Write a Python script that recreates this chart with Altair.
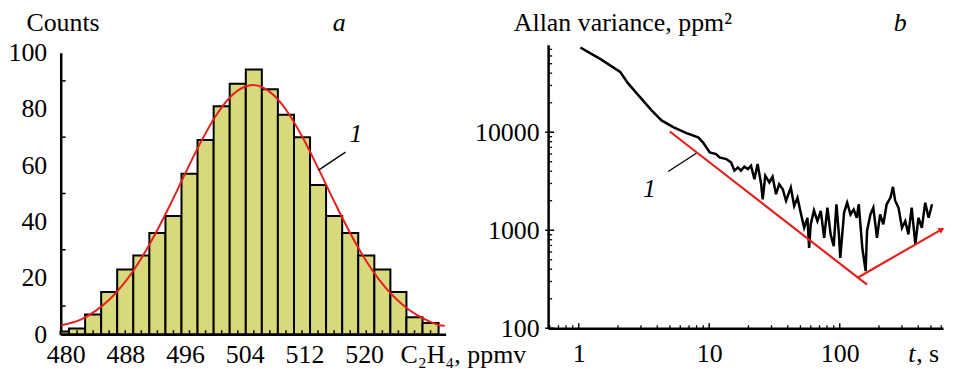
import altair as alt
import pandas as pd

FONT = "Liberation Serif"

# ---------------- panel a: histogram of C2H4 readings ----------------
bin_start = [479.3, 480.44, 482.6, 484.75, 486.9, 489.06, 491.21, 493.37, 495.52, 497.67,
             499.83, 501.98, 504.14, 506.29, 508.44, 510.6, 512.75, 514.9, 517.06, 519.21,
             521.37, 523.52, 525.67, 527.83]
bin_end = bin_start[1:] + [529.98]
counts = [1, 2, 7, 15, 23, 28, 36, 42, 57, 69, 81, 89, 94, 87, 78, 70, 53, 42, 36, 28,
          23, 15, 6, 4]

fit_x = [479.4, 482, 484, 486, 488, 490, 492, 494, 496, 498, 500, 502, 504, 505.1, 506,
         508, 510, 512, 514, 516, 518, 520, 522, 524, 526, 528, 530, 530.8]
fit_y = [3.2, 5.2, 8.3, 12.7, 18.7, 26.4, 35.6, 46.0, 57.0, 67.7, 77.1, 84.1, 87.9, 88.5,
         88.1, 84.6, 77.9, 68.7, 58.1, 47.1, 36.6, 27.2, 19.4, 13.3, 8.7, 5.5, 3.3, 3.0]

a_xticks = [480, 488, 496, 504, 512, 520]
a_yticks = [0, 20, 40, 60, 80, 100]
a_yminor = [10, 30, 50, 70, 90]

a_label_xy = [518.9, 71.0]
a_leader_x = [517.5, 513.9]
a_leader_y = [64.7, 58.3]

# ---------------- panel b: Allan variance ----------------
tau = [1.03, 1.30, 1.46, 2.08, 2.40, 2.95, 3.62, 4.31, 5.30, 6.70, 8.22, 8.95, 10.1, 11.3,
       12.0, 13.5, 14.7, 15.6, 16.6, 17.5, 18.6, 19.8, 20.9, 22.2, 23.5, 25.0, 25.7, 26.9,
       28.9, 30.6, 32.5, 34.4, 36.6, 38.8, 42.2, 44.8, 47.5, 50.6, 53.4, 56.6, 58.3, 60.0,
       63.5, 67.5, 71.6, 76.0, 80.5, 85.2, 90.0, 94.4, 98.6, 101, 108, 114, 121, 128, 135,
       140, 149, 158, 162, 172, 181, 193, 204, 216, 229, 245, 256, 266, 282, 300, 318, 336,
       356, 380, 401, 426, 452, 480, 510]
allan = [73200, 61200, 56000, 41200, 31300, 22800, 16700, 13200, 11250, 9770, 8890, 7890,
         6230, 5990, 5540, 5320, 4920, 4050, 4370, 4050, 4450, 4200, 4550, 3320, 4730, 2950,
         2070, 3600, 3070, 3510, 2330, 2950, 2620, 2000, 2730, 1770, 2150, 1450, 1060, 1340,
         661, 1150, 1590, 1240, 1575, 838, 1700, 906, 689, 1840, 906, 522, 1510, 1910, 1450,
         1630, 1340, 1840, 661, 382, 982, 1450, 1700, 838, 1450, 1150, 1840, 2150, 2770,
         2000, 1700, 1060, 1240, 907, 1700, 719, 1340, 1060, 1910, 1340, 1840]
assert len(tau) == len(allan)

fit1_t = [4.99, 162]
fit1_v = [10170, 278]
fit2_t = [136, 605]
fit2_v = [326, 1020]

b_xticks = [1, 10, 100]
b_yticks = [100, 1000, 10000]
b_xminor = [0.6, 0.7, 0.8, 0.9, 2, 3, 4, 5, 6, 7, 8, 9, 20, 30, 40, 50, 60, 70, 80, 90,
            200, 300, 400, 500, 600]
b_yminor = [200, 300, 400, 500, 600, 700, 800, 900, 2000, 3000, 4000, 5000, 6000, 7000,
            8000, 9000, 20000, 30000, 40000, 50000, 60000, 70000]

b_label_xy = [3.48, 2620]
b_leader_x = [4.85, 7.97]
b_leader_y = [3980, 6100]

RED = "#e3211e"
BAR = "#d8d87c"

# ======== panel a ========
WA, HA = 387, 291
xa = alt.Scale(domain=[479.33, 530.93], nice=False, zero=False)
ya = alt.Scale(domain=[0, 100], range=[291, 8], nice=False, zero=False)
ax_xa = alt.Axis(values=a_xticks, format="d", labelPadding=7, labelFlush=False,
                 title="C\u2082H\u2084, ppmv", titleX=341, titleY=28,
                 titleAlign="left", titleBaseline="alphabetic")
ax_ya = alt.Axis(values=a_yticks, format="d", labelPadding=14,
                 title="Counts", titleAngle=0, titleX=-35, titleY=-14,
                 titleAlign="left", titleBaseline="alphabetic")


def XA(f="x"):
    return alt.X(f"{f}:Q", scale=xa, axis=ax_xa)


def YA(f="y"):
    return alt.Y(f"{f}:Q", scale=ya, axis=ax_ya)


hist = pd.DataFrame({"x": bin_start, "x2": bin_end, "y": counts})
bars = alt.Chart(hist).mark_rect(fill=BAR, stroke="black", strokeWidth=2).encode(
    x=XA(), x2="x2:Q", y=YA(), y2=alt.datum(0))

fit = alt.Chart(pd.DataFrame({"x": fit_x, "y": fit_y})).mark_line(
    color=RED, strokeWidth=2, interpolate="monotone").encode(x=XA(), y=YA())

centers = [(s + e) / 2 for s, e in zip(bin_start[1:], bin_end[1:])]
a_xt = alt.Chart(pd.DataFrame({"x": centers})).mark_rule(color="black", strokeWidth=1.5).encode(
    x=XA(), y=alt.value(HA), y2=alt.value(HA - 4))
a_yt = alt.Chart(pd.DataFrame({"y": a_yminor})).mark_rule(color="black", strokeWidth=1.5).encode(
    y=YA(), x=alt.value(0), x2=alt.value(5))

a_lead = alt.Chart(pd.DataFrame({"x": a_leader_x, "y": a_leader_y})).mark_line(
    color="black", strokeWidth=1.3).encode(x=XA(), y=YA())
a_lab = alt.Chart(pd.DataFrame({"x": [a_label_xy[0]], "y": [a_label_xy[1]], "t": ["1"]})).mark_text(
    fontStyle="italic", baseline="middle", align="center").encode(x=XA(), y=YA(), text="t:N")
a_tag = alt.Chart(pd.DataFrame({"t": ["a"]})).mark_text(
    fontStyle="italic", baseline="alphabetic", align="center").encode(
    x=alt.value(280), y=alt.value(-14), text="t:N")

panel_a = alt.layer(bars, fit, a_xt, a_yt, a_lead, a_lab, a_tag).properties(width=WA, height=HA)

# ======== panel b ========
WB, HB = 397, 285
xb = alt.Scale(type="log", domain=[0.583, 619], nice=False)
yb = alt.Scale(type="log", domain=[100, 78000], nice=False)
ax_xb = alt.Axis(values=b_xticks, format="d", labelPadding=12, labelFlush=False, title=None)
ax_yb = alt.Axis(values=b_yticks, format="d", labelPadding=9,
                 title="Allan variance, ppm\u00b2", titleAngle=0, titleX=-35,
                 titleY=-14, titleAlign="left", titleBaseline="alphabetic")


def XB(f="x"):
    return alt.X(f"{f}:Q", scale=xb, axis=ax_xb)


def YB(f="y"):
    return alt.Y(f"{f}:Q", scale=yb, axis=ax_yb)


av = alt.Chart(pd.DataFrame({"x": tau, "y": allan})).mark_line(
    color="black", strokeWidth=2.5).encode(x=XB(), y=YB())
f1 = alt.Chart(pd.DataFrame({"x": fit1_t, "y": fit1_v})).mark_line(
    color=RED, strokeWidth=2.2).encode(x=XB(), y=YB())
f2 = alt.Chart(pd.DataFrame({"x": fit2_t, "y": fit2_v})).mark_line(
    color=RED, strokeWidth=2.2).encode(x=XB(), y=YB())
arrow = alt.Chart(pd.DataFrame({"x": [fit2_t[-1]], "y": [fit2_v[-1]]})).mark_point(
    shape="triangle-right", filled=True, color=RED, size=45, angle=330, opacity=1).encode(
    x=XB(), y=YB())

b_xt_min = alt.Chart(pd.DataFrame({"x": b_xminor})).mark_rule(color="black", strokeWidth=1.3).encode(
    x=XB(), y=alt.value(HB), y2=alt.value(HB - 3))
b_xt_maj = alt.Chart(pd.DataFrame({"x": b_xticks})).mark_rule(color="black", strokeWidth=1.5).encode(
    x=XB(), y=alt.value(HB), y2=alt.value(HB - 5))
b_yt_min = alt.Chart(pd.DataFrame({"y": b_yminor})).mark_rule(color="black", strokeWidth=1.3).encode(
    y=YB(), x=alt.value(0), x2=alt.value(4))
b_yt_maj = alt.Chart(pd.DataFrame({"y": b_yticks})).mark_rule(color="black", strokeWidth=1.5).encode(
    y=YB(), x=alt.value(-3), x2=alt.value(6))

b_lead = alt.Chart(pd.DataFrame({"x": b_leader_x, "y": b_leader_y})).mark_line(
    color="black", strokeWidth=1.3).encode(x=XB(), y=YB())
b_lab = alt.Chart(pd.DataFrame({"x": [b_label_xy[0]], "y": [b_label_xy[1]], "t": ["1"]})).mark_text(
    fontStyle="italic", baseline="middle", align="center").encode(x=XB(), y=YB(), text="t:N")
b_tag = alt.Chart(pd.DataFrame({"t": ["b"]})).mark_text(
    fontStyle="italic", baseline="alphabetic", align="center").encode(
    x=alt.value(354), y=alt.value(-14), text="t:N")
b_xt1 = alt.Chart(pd.DataFrame({"t": ["t"]})).mark_text(
    fontStyle="italic", baseline="alphabetic", align="left").encode(
    x=alt.value(362), y=alt.value(HB + 34), text="t:N")
b_xt2 = alt.Chart(pd.DataFrame({"t": [", s"]})).mark_text(
    baseline="alphabetic", align="left").encode(
    x=alt.value(370), y=alt.value(HB + 34), text="t:N")

panel_b = alt.layer(av, f1, f2, arrow, b_xt_min, b_xt_maj, b_yt_min, b_yt_maj,
                    b_lead, b_lab, b_tag, b_xt1, b_xt2).properties(width=WB, height=HB)

chart = alt.hconcat(panel_a, panel_b, spacing=103, bounds="flush").properties(
    padding={"left": 0, "top": 1, "right": 0, "bottom": 0}
).configure_view(stroke=None).configure_axis(
    labelFont=FONT, titleFont=FONT, labelFontSize=26, titleFontSize=26,
    labelColor="black", titleColor="black", titleFontWeight="normal",
    domainColor="black", domainWidth=2.5, ticks=False, tickSize=0, grid=False,
).configure_text(font=FONT, fontSize=26, color="black")

chart.save("out.html", embed_options={"renderer": "svg", "actions": False})
